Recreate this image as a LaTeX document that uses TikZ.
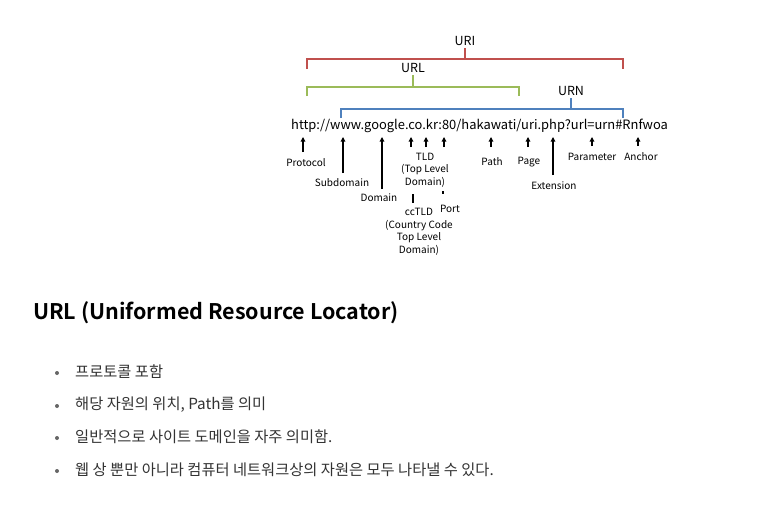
\documentclass[tikz,border=0pt]{standalone}
\usepackage{fontspec}
\setmainfont{Noto Sans CJK KR}[BoldFont={Noto Sans CJK KR Bold}]
\usetikzlibrary{arrows.meta}
\definecolor{uriRed}{HTML}{C0504D}
\definecolor{urlGreen}{HTML}{9BBB59}
\definecolor{urnBlue}{HTML}{4F81BD}
\definecolor{bodyText}{HTML}{333333}
\tikzset{
  brace/.style={line width=1.8pt, line cap=butt, line join=miter},
  part/.style={font=\fontsize{10}{12.6}\selectfont, align=center, inner sep=0pt},
  pointer/.style={-{Triangle[length=4.5pt,width=4.5pt]}, line width=1.2pt},
  bracelabel/.style={font=\fontsize{12.5}{14}\selectfont, inner sep=0pt},
  bullet/.style={circle, fill=bodyText!75, inner sep=0pt, minimum size=4pt},
  item/.style={font=\fontsize{15.3}{17}\selectfont, text=bodyText, anchor=west, inner sep=0pt}
}
\begin{document}
\begin{tikzpicture}[x=1pt,y=-1pt]
\useasboundingbox[fill=white] (0,0) rectangle (780,514);

% the address being dissected
\node[font=\fontsize{12.9}{15}\selectfont, anchor=west, inner sep=0pt] (addr) at (291,126)
  {http://www.google.co.kr:80/hakawati/uri.php?url=urn\#Rnfwoa};

% URI bracket
\coordinate (uriL) at (307,69);
\coordinate (uriR) at (623,69);
\coordinate (uriM) at (465,48);
\draw[brace, uriRed] (uriL) |- (465,59) -| (uriR);
\draw[brace, uriRed] (465,59) -- (uriM);
\node[bracelabel] (uri) at (465,41) {URI};

% URL bracket
\coordinate (urlL) at (307,96);
\coordinate (urlR) at (519,96);
\coordinate (urlM) at (413,75);
\draw[brace, urlGreen] (urlL) |- (413,87) -| (urlR);
\draw[brace, urlGreen] (413,87) -- (urlM);
\node[bracelabel] (url) at (413,68) {URL};

% URN bracket
\coordinate (urnL) at (341,118);
\coordinate (urnR) at (623,118);
\coordinate (urnM) at (571,98);
\draw[brace, urnBlue] (urnL) |- (571,109) -| (urnR);
\draw[brace, urnBlue] (571,109) -- (urnM);
\node[bracelabel] (urn) at (571,91) {URN};

% component labels
\node[part] (protocol)  at (306,163) {Protocol};
\node[part] (subdomain) at (342,183) {Subdomain};
\node[part] (domain)    at (379,198) {Domain};
\node[part] (tld)       at (425,170) {TLD\\(Top Level\\Domain)};
\node[part] (cctld)     at (419,232) {ccTLD\\(Country Code\\Top Level\\Domain)};
\node[part] (port)      at (450,209) {Port};
\node[part] (path)      at (492,162) {Path};
\node[part] (page)      at (529,162) {Page};
\node[part] (extension) at (554,186) {Extension};
\node[part] (parameter) at (592,157) {Parameter};
\node[part] (anchor)    at (641,157) {Anchor};

% pointers up to the address
\coordinate (pProtocol) at (303,152);
\coordinate (pSub)      at (343,173);
\coordinate (pDomain)   at (382,189);
\coordinate (pTldA)     at (411,147);
\coordinate (pTldB)     at (426,147);
\coordinate (pTldC)     at (444,147);
\coordinate (pPath)     at (491,147);
\coordinate (pPage)     at (528,147);
\coordinate (pExt)      at (553,175);
\coordinate (pParam)    at (592,146);
\coordinate (pAnchor)   at (638,146);
\foreach \c/\x in {pProtocol/303, pSub/343, pDomain/382, pTldA/411, pTldB/426,
                   pTldC/444, pPath/491, pPage/528, pExt/553, pParam/592, pAnchor/638}
  \draw[pointer] (\c) -- (\x,137);

% ccTLD and Port ticks
\coordinate (ccTop) at (413,194);
\coordinate (ccBot) at (413,203);
\draw[line width=1.2pt] (ccTop) -- (ccBot);
\coordinate (portTop) at (443,191);
\coordinate (portBot) at (443,194);
\draw[line width=1.2pt] (portTop) -- (portBot);

% heading
\node[font=\fontsize{21.5}{24}\selectfont\bfseries, anchor=west, inner sep=0pt] (title) at (33,313)
  {URL (Uniformed Resource Locator)};

% bullet list
\node[bullet] (b1) at (57,373) {};
\node[item] (t1) at (75,372) {프로토콜 포함};
\node[bullet] (b2) at (57,406) {};
\node[item] (t2) at (75,405) {해당 자원의 위치, Path를 의미};
\node[bullet] (b3) at (57,438) {};
\node[item] (t3) at (75,437) {일반적으로 사이트 도메인을 자주 의미함.};
\node[bullet] (b4) at (57,471) {};
\node[item] (t4) at (75,470) {웹 상 뿐만 아니라 컴퓨터 네트워크상의 자원은 모두 나타낼 수 있다.};
\end{tikzpicture}
\end{document}
